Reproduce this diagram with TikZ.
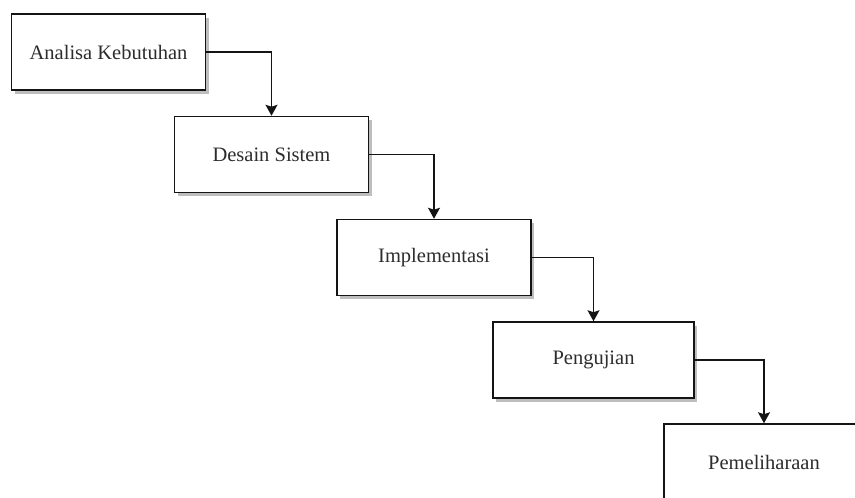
\documentclass[tikz,border=0pt]{standalone}
\usepackage{fontspec}
\setmainfont{Liberation Serif}
\usepackage{tikz}
\usetikzlibrary{arrows.meta, positioning, shadows}
\definecolor{wfInk}{RGB}{20,20,20}
\definecolor{wfText}{RGB}{45,45,45}
\definecolor{wfShade}{RGB}{190,190,190}

\begin{document}
\begin{tikzpicture}[x=1pt,y=-1pt,
  stagebox/.style={draw=wfInk,fill=white,line width=1.5pt,text=wfText,
                   minimum width=194pt,minimum height=76pt,inner sep=0pt,
                   font=\fontsize{20.5}{24}\selectfont,anchor=center,
                   drop shadow={shadow xshift=3pt,shadow yshift=-3.5pt,
                                fill=wfShade,opacity=1}},
  arr/.style={-{Stealth[length=11pt,width=12pt,inset=2pt]},line width=1.5pt,draw=wfInk}]

\useasboundingbox (0,0) rectangle (855,498);
\clip (0,0) rectangle (855,498);

% ===== waterfall stages =====
\node[stagebox] (s1) at (108.5,52)  {Analisa Kebutuhan};
\node[stagebox] (s2) at (271.5,154.5) {Desain Sistem};
\node[stagebox] (s3) at (434,257.5) {Implementasi};
\node[stagebox,minimum width=201pt] (s4) at (593.5,360) {Pengujian};
\node[stagebox,minimum width=200pt] (s5) at (764,462) {Pemeliharaan};

% ===== elbow arrows, stage to next stage =====
\draw[arr] (s1.east) -| (s2.north);
\draw[arr] (s2.east) -| (s3.north);
\draw[arr] (s3.east) -| (s4.north);
\draw[arr] (s4.east) -| (s5.north);
\end{tikzpicture}
\end{document}
